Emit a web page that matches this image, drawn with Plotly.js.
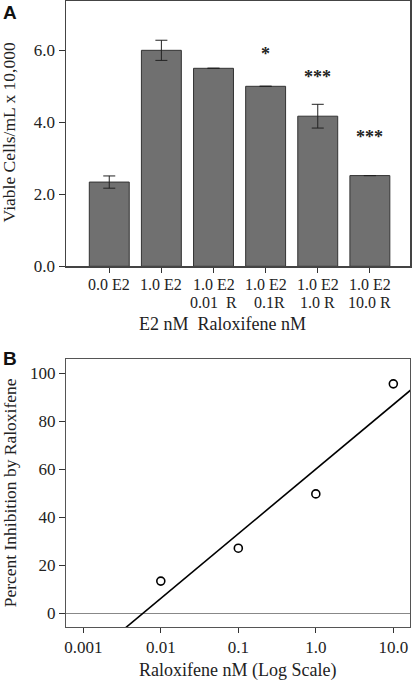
<!DOCTYPE html>
<html>
<head>
<meta charset="utf-8">
<script src="https://cdn.plot.ly/plotly-3.0.1.min.js"></script>
<style>html,body{margin:0;padding:0;background:#fff;}#chart{width:415px;height:680px;}</style>
</head>
<body>
<div id="chart"></div>
<script>
// Panel A data
const categories = ["0.0 E2", "1.0 E2", "1.0 E2", "1.0 E2", "1.0 E2", "1.0 E2"];
const categoriesLine2 = ["", "", "0.01&nbsp;&nbsp;R", "0.1R", "1.0 R", "10.0 R"];
const viableCells = [2.34, 6.0, 5.5, 5.0, 4.17, 2.52];
const viableErr = [0.17, 0.28, 0, 0, 0.33, 0];
const starLabels = ["", "", "", "*", "***", "***"];
const starY = [null, null, null, 5.9, 5.25, 3.58];

// Panel B data
const raloxConc = [0.01, 0.1, 1.0, 10.0];
const pctInhibition = [13.5, 27.2, 49.8, 95.6];
const fitConc = [0.002, 20];
const fitInhibition = [-12.5, 95.1];
const logTickVals = [0.001, 0.01, 0.1, 1, 10];
const logTickText = ["0.001", "0.01", "0.1", "1.0", "10.0"];

const serif = "Liberation Serif, Times New Roman, serif";
const txt = "#222";
const idx = categories.map((_, i) => i);

const traces = [
  {
    type: "bar", x: idx, y: viableCells, xaxis: "x", yaxis: "y",
    width: 0.766,
    marker: {color: "#707070", line: {color: "#333", width: 1}},
    error_y: {type: "data", array: viableErr, visible: true, color: "#222", thickness: 1, width: 6},
    hoverinfo: "skip", showlegend: false
  },
  {
    type: "scatter", mode: "lines", x: fitConc, y: fitInhibition, xaxis: "x2", yaxis: "y2",
    line: {color: "#000", width: 1.6}, showlegend: false
  },
  {
    type: "scatter", mode: "markers", x: raloxConc, y: pctInhibition, xaxis: "x2", yaxis: "y2",
    marker: {symbol: "circle-open", size: 8, color: "#000", line: {width: 1.6, color: "#000"}},
    showlegend: false
  }
];

const annotations = [];
starLabels.forEach((s, i) => {
  if (s) annotations.push({x: i, y: starY[i], xref: "x", yref: "y", text: "<b>" + s + "</b>", showarrow: false,
    font: {family: serif, size: 18, color: txt}, xanchor: "center", yanchor: "middle"});
});
categories.forEach((s, i) => {
  annotations.push({x: i, y: 0.5479, xref: "x", yref: "paper", text: s, showarrow: false,
    font: {family: serif, size: 16, color: txt}, xanchor: "center", yanchor: "middle"});
});
categoriesLine2.forEach((s, i) => {
  if (s) annotations.push({x: i, y: 0.5181, xref: "x", yref: "paper", text: s, showarrow: false,
    xshift: s === "0.1R" ? 4 : 0,
    font: {family: serif, size: 16, color: txt}, xanchor: "center", yanchor: "middle"});
});
annotations.push(
  {text: "<b>A</b>", x: -0.163, y: 0.981, xref: "paper", yref: "paper", showarrow: false,
   font: {family: "Liberation Sans, Arial, sans-serif", size: 19, color: "#111"}, xanchor: "center", yanchor: "middle"},
  {text: "<b>B</b>", x: -0.163, y: 0.4297, xref: "paper", yref: "paper", showarrow: false,
   font: {family: "Liberation Sans, Arial, sans-serif", size: 19, color: "#111"}, xanchor: "center", yanchor: "middle"},
  {text: "Viable Cells/mL x 10,000", textangle: -90, x: -0.163, y: 0.79, xref: "paper", yref: "paper",
   showarrow: false, font: {family: serif, size: 17.5, color: txt}, xanchor: "center", yanchor: "middle"},
  {text: "Percent Inhibition by Raloxifene", textangle: -90, x: -0.163, y: 0.215, xref: "paper", yref: "paper",
   showarrow: false, font: {family: serif, size: 17.5, color: txt}, xanchor: "center", yanchor: "middle"},
  {text: "E2 nM&nbsp;&nbsp;Raloxifene nM", x: 0.456, y: 0.4848, xref: "paper", yref: "paper", showarrow: false,
   font: {family: serif, size: 18, color: txt}, xanchor: "center", yanchor: "middle"},
  {text: "Raloxifene nM (Log Scale)", x: 0.498, y: -0.069, xref: "paper", yref: "paper", showarrow: false,
   font: {family: serif, size: 18, color: txt}, xanchor: "center", yanchor: "middle"}
);

const layout = {
  width: 415, height: 680,
  margin: {l: 66, r: 5, t: 1, b: 53, pad: 0},
  paper_bgcolor: "#fff", plot_bgcolor: "#fff",
  font: {family: serif, color: txt},
  showlegend: false,
  xaxis: {
    domain: [0, 1], anchor: "y", range: [-0.83, 5.77],
    tickmode: "array", tickvals: idx, showticklabels: false,
    ticks: "outside", ticklen: 5, tickcolor: "#333",
    showline: true, mirror: true, linecolor: "#444", linewidth: 1.5,
    showgrid: false, zeroline: false, fixedrange: true
  },
  yaxis: {
    domain: [0.5762, 1], anchor: "x", range: [0, 7.37],
    tickmode: "array", tickvals: [0, 2, 4, 6], ticktext: ["0.0", "2.0", "4.0", "6.0"],
    tickfont: {family: serif, size: 17, color: txt},
    ticks: "outside", ticklen: 6, tickcolor: "#333",
    showline: true, mirror: true, linecolor: "#444", linewidth: 1.5,
    showgrid: false, zeroline: false, fixedrange: true
  },
  xaxis2: {
    domain: [0, 1], anchor: "y2", type: "log", range: [-3.223, 1.215],
    tickmode: "array", tickvals: logTickVals, ticktext: logTickText,
    tickfont: {family: serif, size: 17, color: txt},
    ticks: "outside", ticklen: 5, tickcolor: "#333",
    showline: true, mirror: true, linecolor: "#555", linewidth: 1,
    showgrid: false, zeroline: false, fixedrange: true
  },
  yaxis2: {
    domain: [0, 0.4276], anchor: "x2", range: [-5.6, 105.8],
    tickmode: "array", tickvals: [0, 20, 40, 60, 80, 100],
    tickfont: {family: serif, size: 17, color: txt},
    ticks: "outside", ticklen: 6, tickcolor: "#333",
    showline: true, mirror: true, linecolor: "#555", linewidth: 1,
    showgrid: false, zeroline: true, zerolinecolor: "#888", zerolinewidth: 1.5, fixedrange: true
  },
  annotations: annotations
};

Plotly.newPlot("chart", traces, layout, {displayModeBar: false, staticPlot: true});
</script>
</body>
</html>
